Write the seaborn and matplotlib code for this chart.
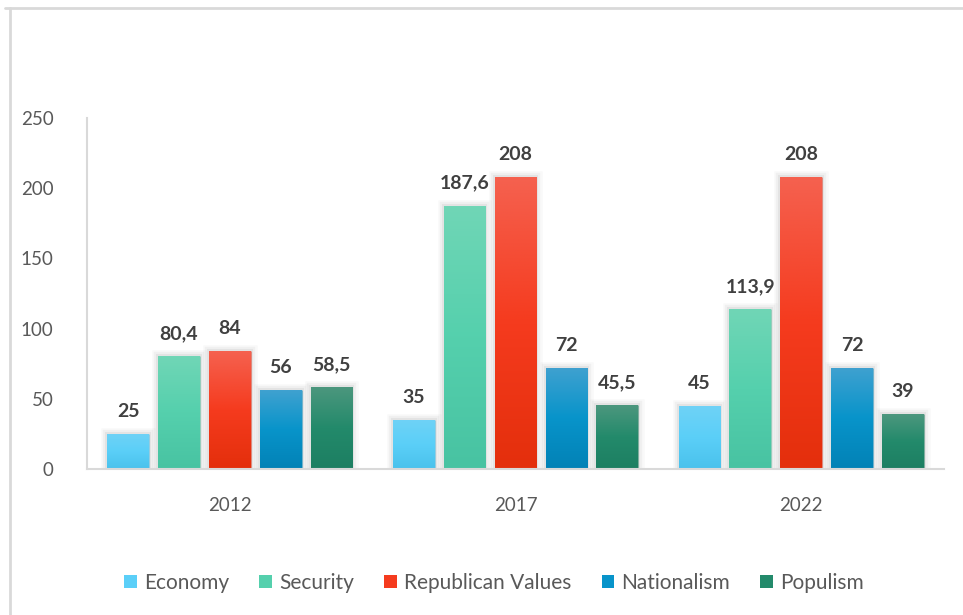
import numpy as np
import pandas as pd
import matplotlib
matplotlib.use("Agg")
import matplotlib.pyplot as plt
import matplotlib.patheffects as pe
from matplotlib.colors import to_rgba
from matplotlib.lines import Line2D
from matplotlib.patches import Patch
import seaborn as sns

years = ["2012", "2017", "2022"]
themes = ["Economy", "Security", "Republican Values", "Nationalism", "Populism"]
economy = [25, 35, 45]
security = [80.4, 187.6, 113.9]
republican_values = [84, 208, 208]
nationalism = [56, 72, 72]
populism = [58.5, 45.5, 39]

# base colour plus light top / dark bottom for the vertical gradient
base_colors = ["#5bcff8", "#55d0ad", "#f53b1e", "#0894ca", "#238a6b"]
top_colors = ["#6fd2f6", "#70d6b6", "#f5614f", "#3fa1d0", "#4c977e"]
bottom_colors = ["#4ac2ec", "#48c3a2", "#e42f0c", "#0282b6", "#1d7f62"]

series = [economy, security, republican_values, nationalism, populism]
df = pd.DataFrame(
    [(y, t, v) for t, vals in zip(themes, series) for y, v in zip(years, vals)],
    columns=["year", "theme", "value"],
)

sns.set_theme(style="white")
plt.rcParams["font.family"] = ["Lato", "DejaVu Sans"]

fig = plt.figure(figsize=(9.63, 6.15), dpi=100)
ax = fig.add_axes([87 / 963, 1 - 469 / 615, (944 - 87) / 963, (469 - 118) / 615])

sns.barplot(
    data=df, x="year", y="value", hue="theme", order=years, hue_order=themes,
    palette=base_colors, width=0.89, gap=0.18, dodge=True, legend=False,
    saturation=1, ax=ax, errorbar=None,
)

# soft grey halo around each bar
shadow = [
    pe.Stroke(linewidth=9, foreground=(0, 0, 0, 0.025)),
    pe.Stroke(linewidth=6, foreground=(0, 0, 0, 0.035)),
    pe.Stroke(linewidth=3, foreground=(0, 0, 0, 0.05)),
    pe.Normal(),
]


def gradient(top, mid, bottom, n=64):
    t = np.linspace(0, 1, n)[:, None]
    c_top, c_mid, c_bot = (np.array(to_rgba(c)) for c in (top, mid, bottom))
    upper = c_top + (c_mid - c_top) * np.clip(t / 0.5, 0, 1)
    lower = c_mid + (c_bot - c_mid) * np.clip((t - 0.5) / 0.5, 0, 1)
    img = np.where(t < 0.5, upper, lower)
    return img[:, None, :]


def fmt(v):
    return f"{v:g}".replace(".", ",")


for i, container in enumerate(ax.containers):
    img = gradient(top_colors[i], base_colors[i], bottom_colors[i])
    for bar in container:
        bar.set_edgecolor("none")
        bar.set_path_effects(shadow)
        x0, y0 = bar.get_x(), bar.get_y()
        w, h = bar.get_width(), bar.get_height()
        im = ax.imshow(img, extent=(x0, x0 + w, y0, y0 + h), aspect="auto",
                       origin="upper", zorder=bar.get_zorder() + 0.1,
                       interpolation="bilinear")
        im.set_clip_path(bar)
    ax.bar_label(container, labels=[fmt(v) for v in container.datavalues],
                 padding=10, fontsize=14, fontweight="bold", color="#404040",
                 family=["Lato", "DejaVu Sans"])

ax.set_xlim(-0.5, 2.5)
ax.set_ylim(0, 250)
ax.set_yticks([0, 50, 100, 150, 200, 250])
ax.set_xlabel("")
ax.set_ylabel("")
ax.tick_params(axis="y", length=0, pad=24, labelsize=13.5, labelcolor="#595959")
ax.tick_params(axis="x", length=0, pad=20, labelsize=13.5, labelcolor="#595959")
for s in ["top", "right"]:
    ax.spines[s].set_visible(False)
for s in ["left", "bottom"]:
    ax.spines[s].set_color("#d9d9d9")
    ax.spines[s].set_linewidth(1.5)

handles = [Patch(facecolor=c, edgecolor="none") for c in base_colors]
fig.legend(handles, themes, loc="center", bbox_to_anchor=(494 / 963, 1 - 583 / 615),
           ncol=5, frameon=False, fontsize=15, labelcolor="#595959",
           handlelength=0.6, handleheight=0.6, handletextpad=0.35,
           columnspacing=1.45)

# outer frame of the chart area
fig.add_artist(Line2D([5 / 963, 1], [1 - 8 / 615, 1 - 8 / 615], color="#d9d9d9",
                      lw=2, transform=fig.transFigure))
fig.add_artist(Line2D([10 / 963, 10 / 963], [0, 1 - 8 / 615], color="#d9d9d9",
                      lw=2, transform=fig.transFigure))

fig.savefig("out.png", dpi=100, facecolor="white")
